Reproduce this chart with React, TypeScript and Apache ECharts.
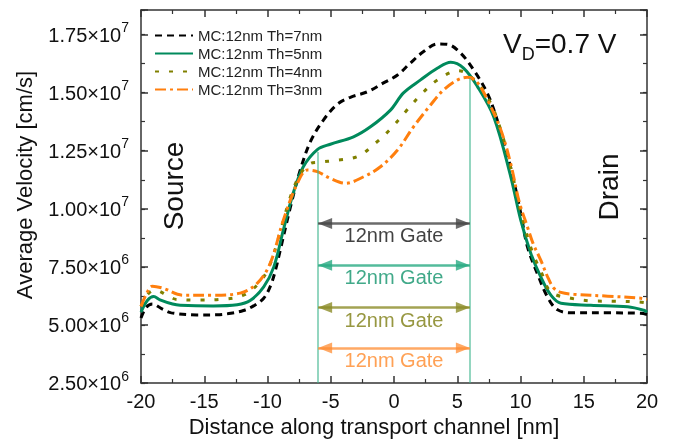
import React, { useEffect, useRef } from 'react';
import * as echarts from 'echarts';

// x: distance along channel [nm], v: average velocity [1e6 cm/s]
const seriesNames = ['MC:12nm Th=7nm', 'MC:12nm Th=5nm', 'MC:12nm Th=4nm', 'MC:12nm Th=3nm'];

const th7: [number, number][] = [
  [-20, 5.3], [-19.6, 5.75], [-19.1, 5.9], [-18.3, 5.68], [-17.6, 5.52], [-15.6, 5.43], [-14, 5.44],
  [-12.9, 5.5], [-11.9, 5.62], [-11.1, 5.82], [-10.3, 6.15], [-9.75, 6.7], [-9.35, 7.4], [-9.0, 8.2],
  [-8.2, 10.05], [-7.41, 11.67], [-6.6, 12.9], [-5.58, 13.82], [-4.48, 14.5], [-3.45, 14.8],
  [-2.1, 15.04], [-0.83, 15.42], [0.28, 15.76], [1.3, 16.28], [2.34, 16.77], [3.45, 17.1],
  [4.24, 17.08], [5.27, 16.7], [6.3, 15.98], [7.4, 14.95], [8.17, 13.8], [9.23, 11.75],
  [10.02, 9.81], [10.55, 8.36], [11.34, 7.2], [12.13, 6.21], [12.93, 5.65], [14.2, 5.52],
  [17, 5.52], [19.5, 5.5], [20, 5.45],
];

const th5: [number, number][] = [
  [-20, 5.55], [-19.5, 6.05], [-19.0, 6.22], [-18.5, 6.08], [-17.5, 5.9], [-16.9, 5.85],
  [-14.3, 5.82], [-12.4, 5.87], [-11.37, 6.05], [-10.3, 6.64], [-9.5, 7.5], [-8.75, 9.08],
  [-7.96, 10.68], [-7.17, 11.81], [-6.06, 12.55], [-5.03, 12.78], [-3.2, 13.1], [-1.86, 13.53],
  [-0.28, 14.25], [0.75, 14.99], [2.1, 15.55], [3.45, 16.06], [4.48, 16.31], [5.5, 16.06],
  [6.6, 15.26], [7.88, 13.96], [9.23, 11.38], [10.02, 9.51], [10.81, 8.09], [11.6, 7.07],
  [12.4, 6.28], [13.2, 5.93], [15.56, 5.85], [18.47, 5.78], [19.76, 5.63], [20, 5.55],
];

const th4: [number, number][] = [
  [-20, 5.8], [-19.5, 6.3], [-18.9, 6.5], [-18, 6.3], [-17.2, 6.1], [-15.3, 6.07], [-13.7, 6.1],
  [-11.9, 6.28], [-10.6, 6.85], [-9.8, 7.6], [-9, 9.0], [-8.2, 10.5], [-7.4, 11.5], [-6.6, 11.95],
  [-6.06, 12.0], [-4.4, 12.1], [-2.8, 12.27], [-1.46, 12.83], [-0.28, 13.43], [0.91, 14.18],
  [2.1, 14.9], [3.45, 15.55], [5.1, 15.95], [6.06, 15.7], [7.4, 14.8], [8.44, 13.4], [9.3, 11.6],
  [10.1, 9.7], [10.9, 8.2], [11.7, 7.2], [12.4, 6.42], [13.98, 6.15], [15.8, 6.03], [17.4, 6.02],
  [19.3, 5.99], [20, 5.95],
];

const th3: [number, number][] = [
  [-20, 5.8], [-19.6, 6.3], [-19.1, 6.67], [-18.26, 6.58], [-16.67, 6.28], [-14.3, 6.28],
  [-12.16, 6.37], [-10.8, 6.8], [-9.78, 7.66], [-8.75, 9.51], [-7.64, 11.1], [-6.85, 11.67],
  [-6.06, 11.6], [-5, 11.3], [-3.84, 11.1], [-2.4, 11.38], [-1.07, 11.81], [0.28, 12.53],
  [1.54, 13.53], [2.89, 14.47], [3.92, 15.12], [5.03, 15.55], [5.8, 15.66], [6.5, 15.5],
  [7.4, 14.68], [8.44, 13.4], [9.2, 12.0], [9.9, 10.3], [10.55, 9.22], [11.0, 8.5], [11.6, 7.79],
  [12.2, 7.0], [12.64, 6.58], [13.2, 6.4], [14.2, 6.32], [16.9, 6.24], [19.5, 6.15], [20, 6.1],
];

const gateEdges = [-6, 6];
const gateTops = [12.45, 15.63]; // 1e6 cm/s, where the gate edge lines start
const arrowLevels = [9.37, 7.57, 5.75, 4.01]; // 1e6 cm/s
const gateLabel = '12nm Gate';
const xMin = -20, xMax = 20, xStep = 5;
const yMin = 2.5e6, yMax = 1.856e7, yStep = 2.5e6;

const FONT = "'Liberation Sans', Arial, sans-serif";
const lineColors = ['#000000', '#008a5c', '#808000', '#ff7f0e'];
const lineTypes: any[] = [[7, 5], 'solid', [4, 10], [11, 4, 3, 4]];
const arrowColors = ['rgba(70,70,70,0.8)', 'rgba(40,170,130,0.8)', 'rgba(140,140,40,0.8)', 'rgba(255,140,50,0.75)'];
const textColors = ['#111111', '#12936c', '#7d7d12', '#ff8a2a'];

const toData = (arr: [number, number][]) => arr.map(([x, v]) => [x, v * 1e6]);

export default function App() {
  const ref = useRef<HTMLDivElement>(null);
  useEffect(() => {
    if (!ref.current) return;
    const chart = echarts.init(ref.current, undefined, { renderer: 'svg' });
    const all = [th7, th5, th4, th3];

    const yLabelFormatter = (val: number) => {
      const k = Math.round((val - yMin) / yStep);
      if (Math.abs(val - (yMin + k * yStep)) > 1) return '';
      const exp = Math.floor(Math.log10(val));
      const mant = (val / Math.pow(10, exp)).toFixed(2);
      return `{m|${mant}×10}{e|${exp}}`;
    };

    const axisLine = { show: true, onZero: false, lineStyle: { color: '#333', width: 1.5 } };
    const noLine = { show: false, onZero: false };

    const markData: any[] = [];
    gateEdges.forEach((g, i) => {
      markData.push([
        { coord: [g, gateTops[i] * 1e6], symbol: 'none', lineStyle: { color: 'rgba(60,180,140,0.55)', width: 2, type: 'solid' }, label: { show: false } },
        { coord: [g, yMin], symbol: 'none' },
      ]);
    });
    arrowLevels.forEach((lv, i) => {
      markData.push([
        {
          coord: [gateEdges[0], lv * 1e6], symbol: 'triangle', symbolSize: [11, 14], symbolOffset: [0, 7],
          lineStyle: { color: arrowColors[i], width: 2.5, type: 'solid' },
          itemStyle: { color: arrowColors[i] },
          label: { show: false },
        },
        { coord: [gateEdges[1], lv * 1e6], symbol: 'triangle', symbolSize: [11, 14], symbolOffset: [0, 7] },
      ]);
    });

    const gateCenter = (gateEdges[0] + gateEdges[1]) / 2;
    const labelData = arrowLevels.map((lv, i) => ({
      value: [gateCenter, lv * 1e6],
      label: { color: textColors[i] },
    }));

    const option: any = {
      animation: false,
      grid: { left: 141, right: 27, top: 10, bottom: 62, containLabel: false, outerBoundsMode: 'none' },
      legend: {
        data: seriesNames, orient: 'vertical', left: 149, top: 23, itemWidth: 38, itemHeight: 14, itemGap: 3,
        textStyle: { fontSize: 15, color: '#222', fontFamily: FONT }, itemStyle: { opacity: 0 },
      },
      xAxis: [
        {
          type: 'value', position: 'bottom', min: xMin, max: xMax, interval: xStep,
          axisLine,
          axisTick: { show: true, inside: true, length: 7, lineStyle: { color: '#333', width: 1.5 } },
          minorTick: { show: true, splitNumber: 2, length: 4, lineStyle: { color: '#333', width: 1.2 } },
          axisLabel: { fontSize: 20, color: '#111', margin: 8, fontFamily: FONT },
          splitLine: { show: false },
          name: 'Distance along transport channel [nm]', nameLocation: 'middle', nameGap: 29,
          nameTextStyle: { fontSize: 22, color: '#111', fontFamily: FONT, padding: [0, 40, 0, 0] },
        },
        {
          type: 'value', position: 'top', min: xMin, max: xMax, interval: xStep,
          axisLine,
          axisTick: { show: true, inside: true, length: 7, lineStyle: { color: '#333', width: 1.5 } },
          minorTick: { show: true, splitNumber: 2, length: 4, lineStyle: { color: '#333', width: 1.2 } },
          axisLabel: { show: false }, splitLine: { show: false },
        },
      ],
      yAxis: [
        {
          type: 'value', position: 'left', min: yMin, max: yMax, interval: yStep,
          axisLine,
          axisTick: { show: true, inside: true, length: 7, lineStyle: { color: '#333', width: 1.5 } },
          axisLabel: {
            margin: 12, formatter: yLabelFormatter,
            rich: {
              m: { fontSize: 20, lineHeight: 24, color: '#111', fontFamily: FONT },
              e: { fontSize: 14, height: 14, padding: [0, 0, 15, 0], color: '#111', fontFamily: FONT },
            },
          },
          splitLine: { show: false },
          name: 'Average Velocity [cm/s]', nameLocation: 'middle', nameGap: 106,
          nameTextStyle: { fontSize: 22, color: '#111', fontFamily: FONT, padding: [0, 0, 0, 23] },
        },
        {
          type: 'value', position: 'left', min: yMin, max: yMax, interval: yStep / 2,
          axisLine: noLine,
          axisTick: { show: true, inside: true, length: 4, lineStyle: { color: '#333', width: 1.2 } },
          axisLabel: { show: false }, splitLine: { show: false },
        },
        {
          type: 'value', position: 'right', min: yMin, max: yMax, interval: yStep,
          axisLine,
          axisTick: { show: true, inside: true, length: 7, lineStyle: { color: '#333', width: 1.5 } },
          axisLabel: { show: false }, splitLine: { show: false },
        },
        {
          type: 'value', position: 'right', min: yMin, max: yMax, interval: yStep / 2,
          axisLine: noLine,
          axisTick: { show: true, inside: true, length: 4, lineStyle: { color: '#333', width: 1.2 } },
          axisLabel: { show: false }, splitLine: { show: false },
        },
      ],
      series: [
        {
          name: 'gate', type: 'line', data: [], xAxisIndex: 0, yAxisIndex: 0, z: 1,
          markLine: { silent: true, animation: false, symbol: ['none', 'none'], data: markData },
        },
        {
          name: 'gateLabels', type: 'scatter', xAxisIndex: 0, yAxisIndex: 0, z: 2, silent: true,
          symbolSize: 0, data: labelData,
          label: { show: true, position: 'bottom', distance: 2, formatter: gateLabel, fontSize: 20, fontFamily: FONT },
        },
        ...all.map((arr, i) => ({
          name: seriesNames[i], type: 'line', xAxisIndex: 0, yAxisIndex: 0, z: 3,
          data: toData(arr), symbol: 'none', smooth: 0.35,
          itemStyle: { color: lineColors[i] },
          lineStyle: { color: lineColors[i], width: 3, type: lineTypes[i] },
        })),
      ],
      graphic: [
        {
          type: 'text', x: 173, y: 186, rotation: Math.PI / 2,
          style: { text: 'Source', fontSize: 28, fontFamily: FONT, fill: '#111', align: 'center', verticalAlign: 'middle' },
        },
        {
          type: 'text', x: 608, y: 187, rotation: Math.PI / 2,
          style: { text: 'Drain', fontSize: 28, fontFamily: FONT, fill: '#111', align: 'center', verticalAlign: 'middle' },
        },
        {
          type: 'text', x: 503, y: 23,
          style: {
            text: '{v|V}{s|D}{v|=0.7 V}', align: 'left', verticalAlign: 'top', fill: '#111',
            rich: {
              v: { fontSize: 28, lineHeight: 34, fontFamily: FONT, fill: '#111' },
              s: { fontSize: 18, height: 18, padding: [22, 0, 0, 0], fontFamily: FONT, fill: '#111' },
            },
          },
        },
      ],
    };
    chart.setOption(option);
    return () => chart.dispose();
  }, []);
  return <div ref={ref} style={{ position: 'fixed', left: 0, top: 0, width: 674, height: 445 }} />;
}
